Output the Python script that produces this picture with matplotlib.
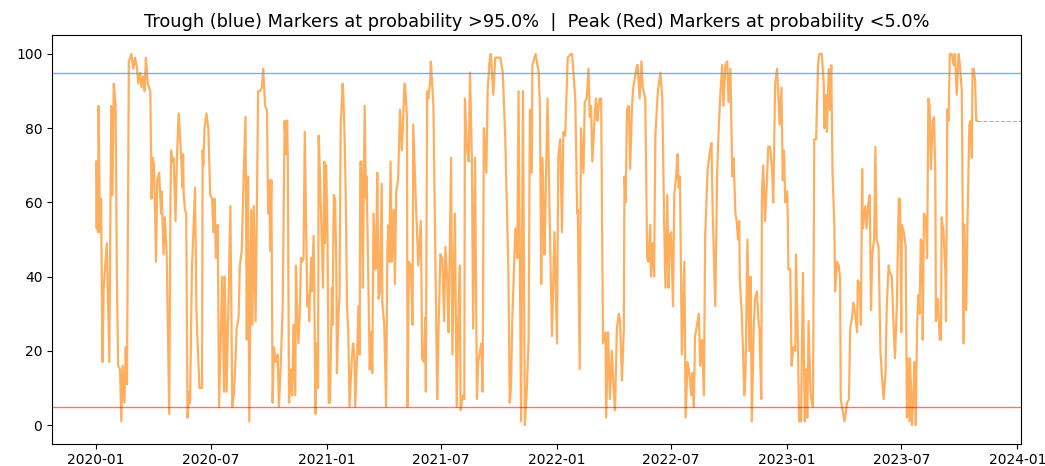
import matplotlib
matplotlib.use('Agg')
import matplotlib.pyplot as plt
import matplotlib.dates as mdates
import numpy as np, pandas as pd

START = '2020-01-01'
UPPER, LOWER = 95.0, 5.0

# day offset from START, probability value
days = [
    0, 1, 2, 3, 4, 6, 8, 10, 12, 17, 21, 24, 26, 28, 31, 33, 35, 38, 40, 42, 45, 47, 49, 52, 56, 59, 62, 65, 67, 70,
    72, 75, 77, 79, 82, 86, 88, 90, 92, 95, 97, 100, 103, 104, 107, 109, 112, 116, 118, 119, 121, 123, 126, 128, 131,
    135, 137, 138, 139, 141, 143, 145, 148, 149, 152, 157, 159, 161, 164, 168, 169, 170, 172, 175, 178, 181, 184, 186,
    188, 190, 193, 195, 200, 203, 204, 207, 210, 213, 216, 219, 223, 226, 228, 231, 234, 237, 239, 241, 243, 246, 248,
    250, 253,
    257, 260, 263, 265, 268, 271, 272, 273, 275, 276, 278, 280, 282, 285, 288, 290, 293, 296, 299, 301, 303, 304, 306,
    309, 311, 313, 316, 317, 319, 321, 323, 325, 327, 329, 331, 333, 335, 337, 338, 341, 342, 345, 346, 348, 350, 352,
    353, 355, 358, 360, 362, 363, 365, 367, 369, 371, 374, 375, 377, 379, 381, 382, 384, 386, 388, 391, 392, 394, 396,
    398, 400, 402, 405, 407, 408, 410, 411, 414, 416, 418, 419, 421, 423, 426, 428, 429, 432, 434, 436, 438, 440, 443,
    444, 446, 448, 450, 453, 454, 457, 460, 462, 464, 465, 467, 469, 472, 474, 476, 479, 481, 482, 485, 487, 489,
    490, 493, 494, 496, 499, 502, 503, 507, 511, 515, 516, 517, 520, 522, 523, 525, 527, 530, 531, 535, 541, 543, 546,
    549, 552, 554, 557, 559, 563, 565, 569, 572, 575, 577, 578, 582, 584, 585, 588, 591, 593, 596, 598, 601, 604, 606,
    611, 613, 615, 619, 621, 624, 626, 630, 633, 641, 645, 649, 654, 656, 658, 660, 665, 668, 670, 674, 677, 680, 683,
    686, 688, 691, 692, 697, 702, 704, 706, 708, 711, 712, 716, 720, 723, 727, 731, 733, 736, 739, 741, 744, 748, 753,
    755, 760, 763, 764, 767, 769, 773, 775, 778, 781, 783, 785, 787, 791, 793, 795, 797, 799, 801, 804, 808, 809, 812,
    815, 818, 821, 823, 826, 829, 831, 834, 837, 838, 840, 842, 845, 847, 850, 852, 855, 858, 859, 862, 865, 867, 871,
    874, 876, 879, 880, 883, 885, 887, 891, 895, 898, 901, 903, 906, 908, 910, 912, 915, 917, 920, 922, 924, 926, 929,
    933, 935, 938, 941, 944, 946, 948, 950, 953, 956, 958, 961, 964, 966, 970, 973, 976, 978, 982, 985, 987, 990, 993,
    995, 998, 1001, 1003, 1006, 1009,
    1011, 1014, 1016, 1018, 1020, 1021, 1024, 1026, 1028, 1030, 1033, 1036, 1038, 1040, 1043, 1045, 1048, 1051, 1052,
    1055, 1056, 1058, 1061, 1064, 1066, 1069, 1072, 1074, 1077, 1080, 1082, 1084, 1087, 1089, 1091, 1093, 1096, 1097,
    1098, 1101, 1103, 1106, 1109, 1110, 1113, 1115, 1118, 1121, 1124, 1126, 1128, 1130, 1133, 1135, 1137, 1139, 1142,
    1145, 1147, 1151, 1154, 1155, 1157, 1159, 1162, 1164, 1166, 1168, 1171, 1172, 1175, 1178, 1180, 1181, 1184, 1187,
    1191, 1194, 1196, 1199, 1201, 1204, 1207, 1208, 1211, 1213, 1215, 1216, 1218, 1220, 1222, 1225, 1227, 1229, 1231,
    1234, 1236, 1238, 1241, 1244, 1246, 1249, 1252,
    1254, 1257, 1259, 1262, 1265, 1267, 1270, 1273, 1275, 1277, 1278, 1281, 1284, 1286, 1287, 1290, 1291, 1294, 1296,
    1298, 1300, 1302, 1304, 1306, 1308, 1310, 1311, 1313, 1316, 1318, 1320, 1322, 1324, 1327, 1329, 1331, 1332, 1335,
    1338, 1340, 1341, 1344, 1347, 1348, 1350, 1352, 1354, 1357, 1360, 1362, 1365, 1368, 1370, 1373, 1376, 1377, 1380,
    1382, 1385, 1387, 1389, 1390, 1392, 1394, 1396, 1397,
]
prob = [
    71, 53, 71, 52, 86, 52, 61, 17, 37, 49, 17, 86, 62, 92, 86, 39, 16, 15, 1, 16, 6, 21, 11, 98, 100, 96, 99, 96, 92, 95,
    91, 94, 90, 99, 92, 90, 61, 72, 70, 44, 66, 68, 57, 63, 46, 56, 46, 3, 61, 74, 71, 72, 55, 71, 84,
    72, 64, 73, 62, 58, 57, 2, 9, 6, 42, 64, 32, 22, 10, 10, 74, 70, 80, 84, 80, 62, 61, 52,
    61, 45, 54, 5, 40, 9, 40, 9, 33, 59, 5, 9, 26, 29, 43, 47, 67, 83, 23, 67, 1, 58, 27,
    59, 28,
    90, 90, 91, 96, 86, 85, 69, 57, 66, 47, 66, 6, 21, 17, 19, 5, 17, 32, 82, 73, 82, 73, 6,
    15, 8, 27, 8, 43, 30, 22, 30, 45, 44, 45, 79, 56, 32, 35, 28, 45, 36, 51, 37, 3, 22, 10,
    78, 68, 50, 37, 71, 49, 70, 51, 6, 6, 37, 27, 62, 61, 43, 14, 28, 35, 81, 92, 89, 79, 61,
    32, 25, 5, 16, 21, 22, 17, 5, 19, 32, 19, 71, 71, 37, 86, 61, 67, 37, 15, 25, 14, 57, 42,
    43, 68, 34, 36, 65, 33, 27, 5, 48, 54, 44, 71, 44, 58, 38, 63, 66, 78, 85, 74, 82, 92,
    92, 83, 5, 44, 43, 27, 81, 61, 43, 55, 40, 18, 17, 29, 9, 90, 88, 93, 98, 86, 7, 25, 46,
    45, 28, 48, 39, 25, 72, 19, 57, 5, 33, 43, 4, 8, 7, 88, 75, 71, 95, 72, 26, 72, 7, 17,
    22, 9, 80, 68, 90, 98, 100, 89, 99, 99, 95, 77, 41, 6, 10, 28, 53, 45, 90, 1, 90, 0, 9,
    23, 85, 68, 97, 100, 95, 85, 38, 72, 46, 53, 88, 50, 24, 52, 22, 72, 77, 52, 79, 78, 99, 100,
    100, 88, 57, 58, 15, 80, 68, 87, 88, 96, 83, 86, 71, 84, 88, 82, 86, 88, 88, 22, 25, 2, 25,
    7, 20, 9, 4, 26, 30, 28, 12, 26, 67, 60, 85, 86, 69, 86, 91, 94, 97, 97, 88, 98, 91, 88,
    45, 44, 54, 40, 49, 40, 78, 90, 95, 88, 54, 37, 62, 37, 51, 52, 32, 62, 67, 73, 64, 67, 19,
    44, 2, 17, 14, 8, 14, 5, 24, 27, 30, 16, 23, 8, 51, 69, 73, 76, 57, 32, 68, 78, 89, 97,
    86, 97, 98, 87, 96, 67,
    72, 57, 55, 50, 55, 39, 30, 20, 8, 14, 50, 20, 40, 1, 26, 34, 36, 27, 26,
    7, 62, 70, 55, 66, 75, 75, 69, 60, 92, 96, 89, 81, 91, 66, 74, 60, 63, 56,
    42, 42, 16, 21, 20, 46, 23, 1, 1, 41, 1, 15, 2, 28, 9, 6, 5, 77, 77,
    97, 100, 100, 92, 80, 89, 79, 96, 85, 97, 68, 53, 36, 44, 43, 39, 7, 4, 1,
    6, 7, 26, 29, 33, 30, 25, 39, 38, 27, 69, 53, 56, 59, 53, 60, 62, 31, 46,
    50, 75, 50, 48, 20, 14, 7, 14,
    32, 43, 41, 40, 26, 18, 32, 61, 61, 25, 54, 52, 48, 2, 18, 1, 18, 0, 8,
    17, 0, 26, 35, 30, 50, 49, 23, 57, 56, 45, 88, 86, 69, 82, 83, 68, 28, 34,
    23, 23, 56, 52, 41, 28, 85, 82, 100, 100, 97, 100, 89, 100, 97, 90, 22, 54, 31,
    54, 81, 82, 72, 96, 96, 93, 82, 82,
]

dates = pd.Timestamp(START) + pd.to_timedelta(days, unit='D')

fig = plt.figure(figsize=(10.45, 4.66), dpi=100)
ax = fig.add_axes([0.0498, 0.048, 0.9272, 0.876])
ax.plot(dates, prob, color='#ff8c1a', alpha=0.7, lw=1.6)
ax.axhline(UPPER, color='#38aee6', alpha=0.8, lw=1)
ax.axhline(LOWER, color='red', alpha=0.55, lw=1)

# dashed continuation of the last value to the right edge
x0, x1 = ax.get_xlim()
ax.hlines(prob[-1], mdates.date2num(dates[-1]), x1, colors='grey', linestyles='--', lw=0.8, alpha=0.6)
ax.set_xlim(x0, x1)

ax.set_title(f'Trough (blue) Markers at probability >{UPPER}%  |  Peak (Red) Markers at probability <{LOWER}%',
             fontsize=12.8)

plt.savefig('out.png', dpi=100)
plt.close('all')
